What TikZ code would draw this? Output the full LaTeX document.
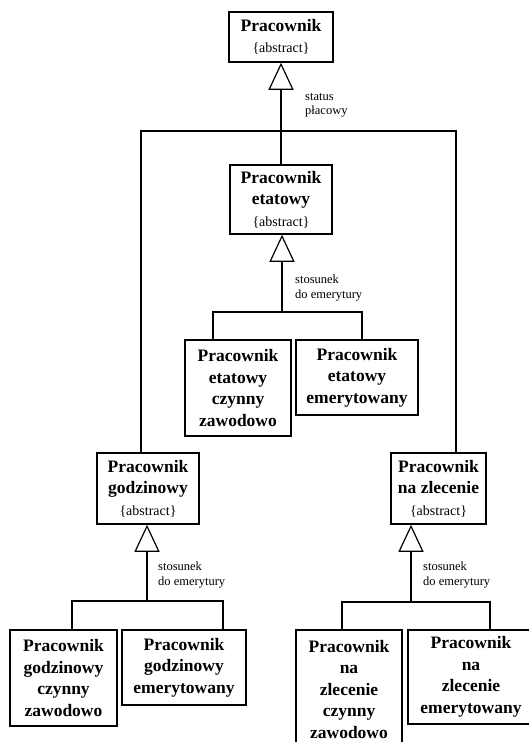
\documentclass[tikz,border=0pt]{standalone}
\usepackage{fontspec}
\setmainfont{Liberation Serif}
\usetikzlibrary{arrows.meta}
\begin{document}
\begin{tikzpicture}[x=1pt,y=-1pt,
  cls/.style={draw, line width=1.5pt, inner sep=0pt, align=center,
    font=\bfseries\fontsize{17.5}{21.5}\selectfont},
  gen/.style={line width=1.2pt, -{Triangle[open, width=25pt, length=27pt, line width=1.2pt]}},
  link/.style={line width=1.2pt},
  lbl/.style={anchor=north west, inner sep=0pt, align=left,
    font=\fontsize{12.5}{14.5}\selectfont}]
\newcommand{\abst}{{\mdseries\fontsize{14}{16}\selectfont\{abstract\}}}
\useasboundingbox (0,0) rectangle (528,742);
\fill[white] (0,0) rectangle (528,742);

% class boxes: corner rectangles given as minimum sizes around centres
\node[cls, minimum width=104pt, minimum height=50pt] (p) at (281,37) {Pracownik\\\abst};
\node[cls, minimum width=102pt, minimum height=69pt] (et) at (281,199.5) {Pracownik\\etatowy\\\abst};
\node[cls, minimum width=106pt, minimum height=96pt] (etc) at (238,388) {Pracownik\\etatowy\\czynny\\zawodowo};
\node[cls, minimum width=122pt, minimum height=75pt] (ete) at (357,377.5) {Pracownik\\etatowy\\emerytowany};
\node[cls, minimum width=102pt, minimum height=71pt] (go) at (148,488.5) {Pracownik\\godzinowy\\\abst};
\node[cls, minimum width=107pt, minimum height=96pt] (goc) at (63.5,678) {Pracownik\\godzinowy\\czynny\\zawodowo};
\node[cls, minimum width=124pt, minimum height=75pt] (goe) at (184,667.5) {Pracownik\\godzinowy\\emerytowany};
\node[cls, minimum width=95pt, minimum height=71pt] (zl) at (438.5,488.5) {Pracownik\\na zlecenie\\\abst};
\node[cls, minimum width=106pt, minimum height=130pt, text depth=0pt] (zlc) at (349,695) {\\[-30pt]Pracownik\\na\\zlecenie\\czynny\\zawodowo};
\node[cls, minimum width=126pt, minimum height=94pt] (zle) at (471,677) {Pracownik\\na\\zlecenie\\emerytowany};

% junction points of the generalization trees
\coordinate (j0) at (281,131);
\coordinate (jl) at (141,131);
\coordinate (jr) at (456,131);
\coordinate (j1) at (282,312);
\coordinate (j1l) at (213,312);
\coordinate (j1r) at (362,312);
\coordinate (j2) at (147,601);
\coordinate (j2l) at (72,601);
\coordinate (j2r) at (223,601);
\coordinate (j3) at (411,602);
\coordinate (j3l) at (342,602);
\coordinate (j3r) at (490,602);

% Pracownik -> etatowy / godzinowy / na zlecenie
\draw[gen] (j0) -- (p.south);
\draw[link] (jl |- go.north) -- (jl) -- (jr) -- (jr |- zl.north);
\draw[link] (j0) -- (et.north);
\node[lbl] (l0) at (305,93) {status\\płacowy};

% Pracownik etatowy
\draw[gen] (j1) -- (j1 |- et.south);
\draw[link] (j1l |- etc.north) -- (j1l) -- (j1r) -- (j1r |- ete.north);
\node[lbl] (l1) at (295,275) {stosunek\\do emerytury};

% Pracownik godzinowy
\draw[gen] (j2) -- (j2 |- go.south);
\draw[link] (j2l |- goc.north) -- (j2l) -- (j2r) -- (j2r |- goe.north);
\node[lbl] (l2) at (158,562) {stosunek\\do emerytury};

% Pracownik na zlecenie
\draw[gen] (j3) -- (j3 |- zl.south);
\draw[link] (j3l |- zlc.north) -- (j3l) -- (j3r) -- (j3r |- zle.north);
\node[lbl] (l3) at (423,562) {stosunek\\do emerytury};
\end{tikzpicture}
\end{document}
